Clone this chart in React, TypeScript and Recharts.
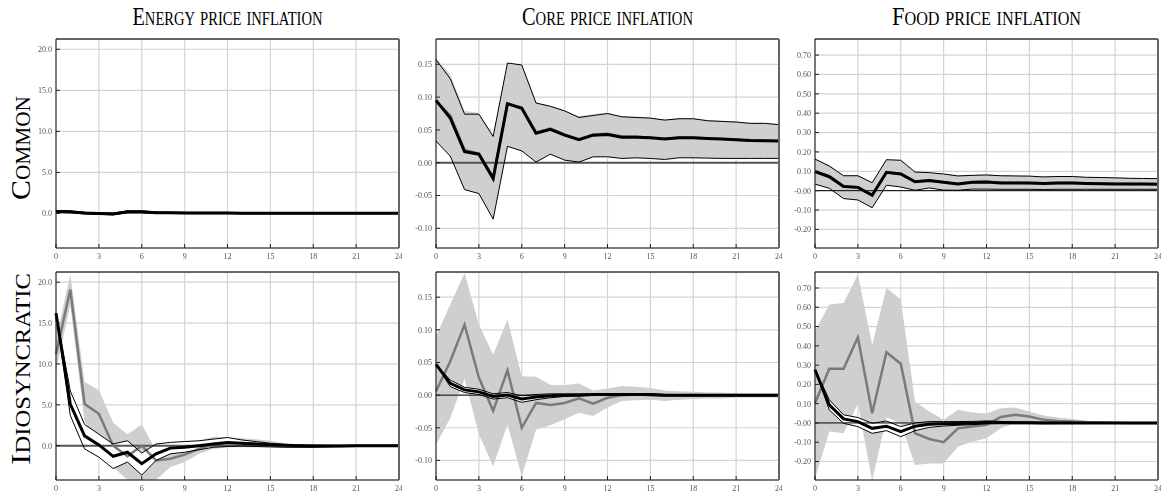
import React from "react";
import {
  ComposedChart,
  Area,
  Line,
  XAxis,
  YAxis,
  CartesianGrid,
  ReferenceLine,
} from "recharts";

// horizon (months after the shock)
const horizon = [0, 1, 2, 3, 4, 5, 6, 7, 8, 9, 10, 11, 12, 13, 14, 15, 16, 17, 18, 19, 20, 21, 22, 23, 24];
const xTicks = [0, 3, 6, 9, 12, 15, 18, 21, 24];

const energyTicks = [0, 5, 10, 15, 20];
const energyTickLabels = ["0.0", "5.0", "10.0", "15.0", "20.0"];
const coreTicks = [-0.1, -0.05, 0, 0.05, 0.1, 0.15];
const coreTickLabels = ["-0.10", "-0.05", "0.00", "0.05", "0.10", "0.15"];
const foodTicks = [-0.2, -0.1, 0, 0.1, 0.2, 0.3, 0.4, 0.5, 0.6, 0.7];
const foodTickLabels = ["-0.20", "-0.10", "-0.00", "0.10", "0.20", "0.30", "0.40", "0.50", "0.60", "0.70"];

const columnTitles = ["Energy price inflation", "Core price inflation", "Food price inflation"];
const rowTitles = ["Common", "Idiosyncratic"];

// common shock, energy
const energyCommonMed = [0.25, 0.2, 0.05, 0.0, -0.05, 0.2, 0.2, 0.1, 0.08, 0.06, 0.05, 0.05, 0.05, 0.04, 0.04, 0.04, 0.04, 0.04, 0.04, 0.04, 0.03, 0.03, 0.03, 0.03, 0.03];
const energyCommonHi = [0.36, 0.3, 0.14, 0.1, 0.05, 0.31, 0.31, 0.18, 0.15, 0.13, 0.11, 0.11, 0.11, 0.1, 0.1, 0.1, 0.09, 0.09, 0.09, 0.09, 0.08, 0.08, 0.08, 0.08, 0.08];
const energyCommonLo = [0.13, 0.08, -0.05, -0.1, -0.16, 0.08, 0.08, 0.02, 0.01, 0.0, 0.0, 0.0, 0.0, 0.0, 0.0, 0.0, 0.0, 0.0, 0.0, 0.0, 0.0, 0.0, 0.0, 0.0, 0.0];
const energyCommonAltMed = [0.26, 0.22, 0.06, 0.01, -0.04, 0.21, 0.2, 0.1, 0.08, 0.06, 0.05, 0.05, 0.05, 0.04, 0.04, 0.04, 0.04, 0.04, 0.04, 0.04, 0.03, 0.03, 0.03, 0.03, 0.03];
const energyCommonAltHi = [0.38, 0.33, 0.16, 0.11, 0.06, 0.32, 0.31, 0.19, 0.15, 0.13, 0.11, 0.11, 0.11, 0.1, 0.1, 0.1, 0.09, 0.09, 0.09, 0.09, 0.08, 0.08, 0.08, 0.08, 0.08];
const energyCommonAltLo = [0.12, 0.09, -0.04, -0.09, -0.15, 0.09, 0.08, 0.02, 0.01, 0.0, 0.0, 0.0, 0.0, 0.0, 0.0, 0.0, 0.0, 0.0, 0.0, 0.0, 0.0, 0.0, 0.0, 0.0, 0.0];

// common shock, core
const coreCommonMed = [0.095, 0.068, 0.017, 0.013, -0.024, 0.09, 0.083, 0.045, 0.051, 0.042, 0.035, 0.042, 0.043, 0.039, 0.039, 0.038, 0.036, 0.038, 0.038, 0.037, 0.036, 0.035, 0.034, 0.0335, 0.033];
const coreCommonHi = [0.157, 0.128, 0.074, 0.074, 0.04, 0.152, 0.149, 0.091, 0.086, 0.079, 0.069, 0.072, 0.075, 0.07, 0.069, 0.068, 0.065, 0.067, 0.067, 0.064, 0.063, 0.062, 0.06, 0.06, 0.058];
const coreCommonLo = [0.033, 0.01, -0.041, -0.047, -0.086, 0.025, 0.018, 0.001, 0.013, 0.004, 0.001, 0.009, 0.009, 0.0065, 0.0075, 0.0065, 0.005, 0.0075, 0.0075, 0.007, 0.0066, 0.0066, 0.0066, 0.0066, 0.0066];
const coreCommonAltMed = [0.094, 0.072, 0.019, 0.014, -0.022, 0.089, 0.084, 0.046, 0.052, 0.043, 0.036, 0.043, 0.044, 0.04, 0.04, 0.038, 0.037, 0.038, 0.038, 0.037, 0.036, 0.035, 0.034, 0.034, 0.033];
const coreCommonAltHi = [0.16, 0.134, 0.079, 0.076, 0.042, 0.151, 0.148, 0.092, 0.087, 0.08, 0.071, 0.074, 0.076, 0.071, 0.07, 0.069, 0.066, 0.068, 0.068, 0.065, 0.064, 0.063, 0.061, 0.061, 0.059];
const coreCommonAltLo = [0.032, 0.012, -0.039, -0.046, -0.085, 0.026, 0.019, 0.002, 0.014, 0.005, 0.002, 0.009, 0.01, 0.007, 0.008, 0.007, 0.006, 0.008, 0.008, 0.007, 0.007, 0.007, 0.007, 0.007, 0.007];

// common shock, food
const foodCommonMed = [0.098, 0.072, 0.021, 0.017, -0.024, 0.095, 0.086, 0.046, 0.052, 0.043, 0.034, 0.043, 0.045, 0.04, 0.04, 0.039, 0.037, 0.039, 0.039, 0.037, 0.036, 0.035, 0.034, 0.034, 0.033];
const foodCommonHi = [0.163, 0.127, 0.077, 0.077, 0.041, 0.16, 0.157, 0.096, 0.093, 0.086, 0.076, 0.079, 0.081, 0.077, 0.076, 0.075, 0.071, 0.073, 0.073, 0.069, 0.068, 0.066, 0.064, 0.063, 0.062];
const foodCommonLo = [0.034, 0.012, -0.041, -0.048, -0.088, 0.028, 0.019, 0.002, 0.014, 0.003, 0.002, 0.008, 0.008, 0.007, 0.007, 0.007, 0.006, 0.007, 0.007, 0.007, 0.007, 0.007, 0.007, 0.007, 0.007];
const foodCommonAltMed = [0.1, 0.075, 0.023, 0.018, -0.022, 0.094, 0.087, 0.047, 0.053, 0.044, 0.035, 0.044, 0.046, 0.041, 0.041, 0.04, 0.038, 0.04, 0.04, 0.038, 0.037, 0.036, 0.035, 0.035, 0.034];
const foodCommonAltHi = [0.166, 0.133, 0.081, 0.079, 0.043, 0.159, 0.156, 0.097, 0.094, 0.087, 0.078, 0.081, 0.083, 0.079, 0.078, 0.077, 0.073, 0.075, 0.075, 0.071, 0.07, 0.068, 0.066, 0.065, 0.064];
const foodCommonAltLo = [0.033, 0.013, -0.04, -0.047, -0.087, 0.029, 0.02, 0.003, 0.015, 0.004, 0.003, 0.009, 0.009, 0.008, 0.008, 0.008, 0.007, 0.008, 0.008, 0.008, 0.008, 0.008, 0.008, 0.008, 0.008];

// idiosyncratic shock, energy
const energyIdioMed = [16.2, 5.1, 1.2, 0.1, -1.3, -0.8, -2.2, -1.0, -0.3, -0.2, 0.0, 0.2, 0.4, 0.3, 0.2, 0.1, 0.05, 0.0, -0.05, -0.05, -0.03, -0.02, -0.01, 0.0, 0.0];
const energyIdioHi = [16.2, 6.7, 2.6, 1.4, 0.2, 0.6, -0.9, 0.2, 0.4, 0.5, 0.6, 0.8, 1.0, 0.7, 0.5, 0.3, 0.15, 0.08, 0.05, 0.03, 0.02, 0.02, 0.01, 0.01, 0.01];
const energyIdioLo = [16.2, 3.7, -0.4, -1.4, -2.8, -2.0, -3.6, -1.8, -1.0, -0.8, -0.5, -0.2, -0.1, -0.05, -0.1, -0.15, -0.2, -0.2, -0.2, -0.15, -0.1, -0.08, -0.05, -0.03, -0.02];
const energyIdioAltMed = [11.2, 19.1, 5.1, 3.9, 0.0, -1.3, 0.0, -1.8, -1.6, -1.1, -0.4, 0.2, 0.3, 0.3, 0.2, 0.1, 0.0, -0.05, -0.05, -0.05, -0.03, -0.02, -0.01, 0.0, 0.0];
const energyIdioAltHi = [13.0, 21.0, 7.8, 6.8, 2.8, 1.4, 2.6, -0.6, 0.0, 0.0, 0.6, 1.1, 1.0, 0.9, 0.8, 0.6, 0.3, 0.15, 0.1, 0.05, 0.03, 0.02, 0.01, 0.01, 0.0];
const energyIdioAltLo = [9.2, 17.2, 3.0, 0.0, -2.6, -4.2, -4.2, -4.2, -2.6, -2.0, -1.0, -0.4, -0.2, -0.2, -0.2, -0.2, -0.2, -0.2, -0.15, -0.1, -0.08, -0.05, -0.03, -0.02, -0.01];

// idiosyncratic shock, core
const coreIdioMed = [0.047, 0.018, 0.008, 0.005, -0.002, 0.0, -0.006, -0.003, -0.001, 0.0, 0.0, 0.001, 0.001, 0.001, 0.001, 0.001, 0.0, 0.0, 0.0, 0.0, 0.0, 0.0, 0.0, 0.0, 0.0];
const coreIdioHi = [0.047, 0.023, 0.012, 0.009, 0.002, 0.004, -0.001, 0.001, 0.002, 0.002, 0.002, 0.002, 0.002, 0.002, 0.002, 0.002, 0.001, 0.001, 0.001, 0.001, 0.001, 0.001, 0.001, 0.001, 0.001];
const coreIdioLo = [0.047, 0.013, 0.004, 0.001, -0.006, -0.004, -0.011, -0.007, -0.004, -0.002, -0.001, 0.0, 0.0, 0.0, 0.0, -0.001, -0.001, -0.001, -0.001, -0.001, -0.001, -0.001, -0.001, -0.001, -0.001];
const coreIdioAltMed = [0.006, 0.052, 0.108, 0.027, -0.024, 0.038, -0.05, -0.012, -0.015, -0.012, -0.005, -0.013, -0.004, 0.0, 0.001, 0.001, 0.0, 0.0, 0.0, 0.0, 0.0, 0.0, 0.0, 0.0, 0.0];
const coreIdioAltHi = [0.09, 0.139, 0.187, 0.108, 0.062, 0.116, 0.029, 0.028, 0.016, 0.015, 0.018, 0.007, 0.01, 0.014, 0.013, 0.011, 0.007, 0.006, 0.005, 0.004, 0.004, 0.003, 0.003, 0.003, 0.003];
const coreIdioAltLo = [-0.076, -0.035, 0.025, -0.06, -0.109, -0.045, -0.124, -0.053, -0.046, -0.037, -0.027, -0.032, -0.019, -0.009, -0.008, -0.007, -0.009, -0.007, -0.006, -0.005, -0.005, -0.004, -0.004, -0.004, -0.004];

// idiosyncratic shock, food
const foodIdioMed = [0.276, 0.094, 0.021, 0.007, -0.028, -0.017, -0.045, -0.017, -0.007, -0.004, -0.003, -0.001, 0.003, 0.002, 0.001, 0.001, 0.0, 0.0, 0.0, 0.0, 0.0, 0.0, 0.0, 0.0, 0.0];
const foodIdioHi = [0.276, 0.12, 0.042, 0.028, -0.002, 0.01, -0.019, 0.0, 0.007, 0.007, 0.007, 0.008, 0.01, 0.008, 0.006, 0.005, 0.004, 0.003, 0.003, 0.002, 0.002, 0.002, 0.002, 0.001, 0.001];
const foodIdioLo = [0.276, 0.068, -0.002, -0.019, -0.054, -0.04, -0.071, -0.04, -0.023, -0.016, -0.012, -0.009, -0.005, -0.004, -0.004, -0.004, -0.004, -0.003, -0.003, -0.003, -0.002, -0.002, -0.002, -0.002, -0.002];
const foodIdioAltMed = [0.102, 0.281, 0.281, 0.444, 0.05, 0.367, 0.307, -0.054, -0.083, -0.1, -0.028, -0.019, -0.01, 0.031, 0.042, 0.033, 0.016, 0.01, 0.007, 0.004, 0.002, 0.001, 0.0, 0.0, 0.0];
const foodIdioAltHi = [0.475, 0.614, 0.622, 0.77, 0.405, 0.7, 0.64, 0.111, 0.059, 0.016, 0.068, 0.054, 0.049, 0.076, 0.08, 0.059, 0.038, 0.028, 0.021, 0.012, 0.008, 0.005, 0.003, 0.002, 0.002];
const foodIdioAltLo = [-0.288, -0.045, -0.054, 0.1, -0.3, 0.028, -0.002, -0.218, -0.21, -0.21, -0.123, -0.097, -0.08, -0.028, -0.002, 0.001, -0.007, -0.007, -0.006, -0.005, -0.004, -0.004, -0.004, -0.004, -0.004];

const SERIF = '"Liberation Serif", "DejaVu Serif", serif';
const BAND = "#cfcfcf";

// plot-area geometry
const PLOT_W = 343;
const Y_AXIS_W = 40;
const X_AXIS_H = 20;
const EDGE = 3; // room for the top / right frame axes
const colLeft = [56, 436, 815];
const rowTop = [39, 272];
const rowHeight = [209, 208];

type PanelProps = {
  left: number;
  top: number;
  plotH: number;
  domain: [number, number];
  ticks: number[];
  tickLabels: string[];
  med: number[];
  hi: number[];
  lo: number[];
  altMed: number[];
  altHi: number[];
  altLo: number[];
  bandFill: string;
  zeroStroke?: string;
  zeroWidth?: number;
};

const Panel = ({
  left, top, plotH, domain, ticks, tickLabels,
  med, hi, lo, altMed, altHi, altLo, bandFill, zeroStroke, zeroWidth,
}: PanelProps) => {
  const data = horizon.map((h, i) => ({
    h,
    med: med[i],
    hi: hi[i],
    lo: lo[i],
    band: [lo[i], hi[i]],
    altMed: altMed[i],
    altBand: [altLo[i], altHi[i]],
  }));
  const fmt = (v: number) => {
    const k = ticks.findIndex((t) => Math.abs(t - v) < 1e-9);
    return k >= 0 ? tickLabels[k] : String(v);
  };
  const tickStyle = { fontSize: 8, fill: "#555", fontFamily: SERIF };

  return (
    <div style={{ position: "absolute", left: left - Y_AXIS_W, top: top - EDGE, willChange: "transform" }}>
      <ComposedChart
        width={Y_AXIS_W + PLOT_W + EDGE}
        height={plotH + EDGE + X_AXIS_H}
        data={data}
        margin={{ top: 0, right: 0, bottom: 0, left: 0 }}
      >
        <CartesianGrid stroke="#d4d4d4" strokeWidth={1.2} />
        <XAxis
          dataKey="h"
          type="number"
          domain={[0, 24]}
          ticks={xTicks}
          interval={0}
          height={X_AXIS_H}
          tickSize={-4}
          tickMargin={9}
          axisLine={{ stroke: "#111" }}
          tickLine={{ stroke: "#222" }}
          tick={tickStyle}
        />
        <XAxis
          xAxisId="top"
          orientation="top"
          dataKey="h"
          type="number"
          domain={[0, 24]}
          ticks={xTicks}
          interval={0}
          height={EDGE}
          tickSize={-4}
          tick={false}
          axisLine={{ stroke: "#666", strokeWidth: 2 }}
          tickLine={{ stroke: "#222" }}
        />
        <YAxis
          type="number"
          domain={domain}
          ticks={ticks}
          interval={0}
          allowDataOverflow
          width={Y_AXIS_W}
          tickSize={-4}
          tickMargin={8}
          tickFormatter={fmt}
          axisLine={{ stroke: "#111" }}
          tickLine={{ stroke: "#222" }}
          tick={tickStyle}
        />
        <YAxis
          yAxisId="right"
          orientation="right"
          type="number"
          domain={domain}
          ticks={ticks}
          interval={0}
          allowDataOverflow
          width={EDGE}
          tickSize={-4}
          tick={false}
          axisLine={{ stroke: "#666", strokeWidth: 2 }}
          tickLine={{ stroke: "#222" }}
        />
        <Area dataKey="altBand" type="linear" stroke="none" fill={BAND} fillOpacity={1} isAnimationActive={false} />
        <Area dataKey="band" type="linear" stroke="none" fill={bandFill} fillOpacity={1} isAnimationActive={false} />
        {zeroStroke && <ReferenceLine y={0} stroke={zeroStroke} strokeWidth={zeroWidth ?? 1} />}
        <Line dataKey="altMed" type="linear" stroke="#7a7a7a" strokeWidth={2.5} dot={false} activeDot={false} isAnimationActive={false} />
        <Line dataKey="hi" type="linear" stroke="#000" strokeWidth={1} dot={false} activeDot={false} isAnimationActive={false} />
        <Line dataKey="lo" type="linear" stroke="#000" strokeWidth={1} dot={false} activeDot={false} isAnimationActive={false} />
        <Line dataKey="med" type="linear" stroke="#000" strokeWidth={3} dot={false} activeDot={false} isAnimationActive={false} />
      </ComposedChart>
    </div>
  );
};

const energyDomain: [number, number] = [-4.2, 21.25];
const coreDomain: [number, number] = [-0.13, 0.1886];
const foodDomain: [number, number] = [-0.296, 0.783];

export default function App() {
  const titleLen = [190, 171, 189];
  const rowLabelLen = [104, 192];
  const rowLabelY = [148, 369];
  return (
    <div style={{ position: "absolute", left: 0, top: 0, width: 1164, height: 495, background: "#fff", overflow: "hidden" }}>
      <svg width={1164} height={495} style={{ position: "absolute", left: 0, top: 0 }}>
        {columnTitles.map((t, i) => (
          <text
            key={t}
            x={colLeft[i] + PLOT_W / 2}
            y={25}
            textAnchor="middle"
            fontFamily={SERIF}
            fontSize={25}
            style={{ fontVariant: "small-caps" }}
            textLength={titleLen[i]}
            lengthAdjust="spacingAndGlyphs"
          >
            {t}
          </text>
        ))}
        {rowTitles.map((t, i) => (
          <text
            key={t}
            transform={`translate(30, ${rowLabelY[i]}) rotate(-90)`}
            textAnchor="middle"
            fontFamily={SERIF}
            fontSize={28}
            style={{ fontVariant: "small-caps" }}
            textLength={rowLabelLen[i]}
            lengthAdjust="spacingAndGlyphs"
          >
            {t}
          </text>
        ))}
      </svg>

      <Panel left={colLeft[0]} top={rowTop[0]} plotH={rowHeight[0]} domain={energyDomain} ticks={energyTicks} tickLabels={energyTickLabels}
        med={energyCommonMed} hi={energyCommonHi} lo={energyCommonLo}
        altMed={energyCommonAltMed} altHi={energyCommonAltHi} altLo={energyCommonAltLo} bandFill={BAND} />
      <Panel left={colLeft[1]} top={rowTop[0]} plotH={rowHeight[0]} domain={coreDomain} ticks={coreTicks} tickLabels={coreTickLabels}
        med={coreCommonMed} hi={coreCommonHi} lo={coreCommonLo}
        altMed={coreCommonAltMed} altHi={coreCommonAltHi} altLo={coreCommonAltLo} bandFill={BAND} zeroStroke="#555" zeroWidth={2} />
      <Panel left={colLeft[2]} top={rowTop[0]} plotH={rowHeight[0]} domain={foodDomain} ticks={foodTicks} tickLabels={foodTickLabels}
        med={foodCommonMed} hi={foodCommonHi} lo={foodCommonLo}
        altMed={foodCommonAltMed} altHi={foodCommonAltHi} altLo={foodCommonAltLo} bandFill={BAND} zeroStroke="#000" zeroWidth={1} />

      <Panel left={colLeft[0]} top={rowTop[1]} plotH={rowHeight[1]} domain={energyDomain} ticks={energyTicks} tickLabels={energyTickLabels}
        med={energyIdioMed} hi={energyIdioHi} lo={energyIdioLo}
        altMed={energyIdioAltMed} altHi={energyIdioAltHi} altLo={energyIdioAltLo} bandFill="#fff" zeroStroke="#555" zeroWidth={2} />
      <Panel left={colLeft[1]} top={rowTop[1]} plotH={rowHeight[1]} domain={coreDomain} ticks={coreTicks} tickLabels={coreTickLabels}
        med={coreIdioMed} hi={coreIdioHi} lo={coreIdioLo}
        altMed={coreIdioAltMed} altHi={coreIdioAltHi} altLo={coreIdioAltLo} bandFill="#fff" zeroStroke="#000" zeroWidth={1} />
      <Panel left={colLeft[2]} top={rowTop[1]} plotH={rowHeight[1]} domain={foodDomain} ticks={foodTicks} tickLabels={foodTickLabels}
        med={foodIdioMed} hi={foodIdioHi} lo={foodIdioLo}
        altMed={foodIdioAltMed} altHi={foodIdioAltHi} altLo={foodIdioAltLo} bandFill="#fff" zeroStroke="#000" zeroWidth={1} />
    </div>
  );
}
